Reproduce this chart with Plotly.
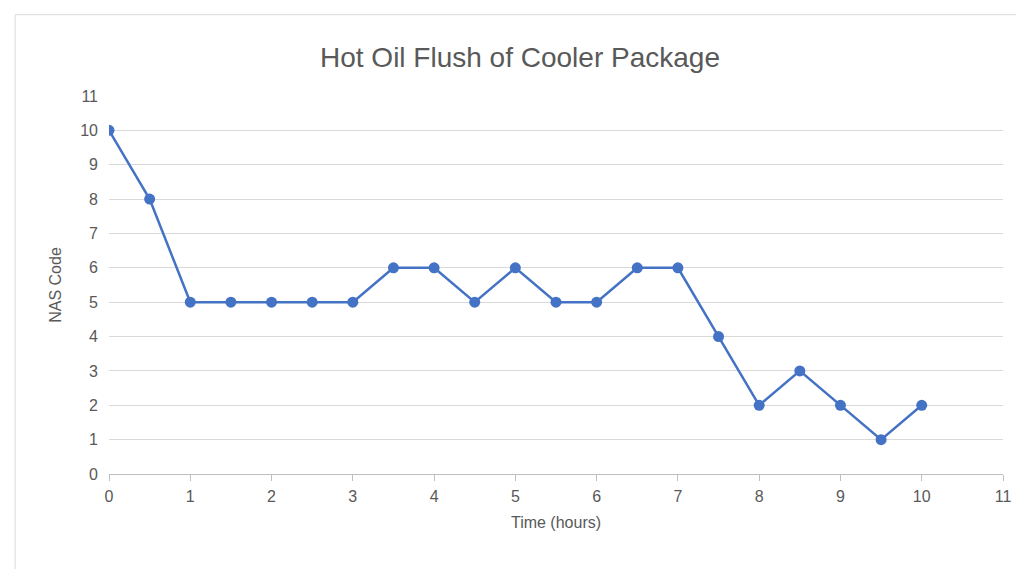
import plotly.graph_objects as go

hours = [0, 0.5, 1, 1.5, 2, 2.5, 3, 3.5, 4, 4.5, 5, 5.5, 6, 6.5, 7, 7.5, 8, 8.5, 9, 9.5, 10]
nas_code = [10, 8, 5, 5, 5, 5, 5, 6, 6, 5, 6, 5, 5, 6, 6, 4, 2, 3, 2, 1, 2]

fig = go.Figure()
fig.add_trace(go.Scatter(
    x=hours, y=nas_code, mode="lines+markers",
    line=dict(color="#4472C4", width=2.5),
    marker=dict(color="#4472C4", size=11),
))

axis_font = dict(family="Liberation Sans, Arial", size=16, color="#595959")
fig.update_layout(
    width=1024, height=569,
    paper_bgcolor="white", plot_bgcolor="white",
    showlegend=False,
    margin=dict(l=101, r=29, t=88, b=103),
    title=dict(text="Hot Oil Flush of Cooler Package", x=0.5, y=0.93, xanchor="center",
               font=dict(family="Liberation Sans, Arial", size=28, color="#595959")),
    xaxis=dict(range=[0, 11], tick0=0, dtick=1, showgrid=False, zeroline=False,
               showline=True, linecolor="#BFBFBF", ticks="outside", ticklen=6,
               tickcolor="#BFBFBF", tickfont=axis_font, ticklabelstandoff=2,
               title=dict(text="Time (hours)", font=axis_font, standoff=12)),
    yaxis=dict(range=[0, 11], tick0=0, dtick=1, showgrid=True, gridcolor="#D9D9D9",
               zeroline=False, showline=False, tickfont=axis_font, ticks="",
               ticklabelstandoff=10,
               title=dict(text="NAS Code", font=axis_font, standoff=14)),
    shapes=[dict(type="rect", xref="paper", yref="paper", x0=-0.105, x1=1.028,
                 y0=-0.258, y1=1.215, line=dict(color="#D9D9D9", width=1))],
)

fig.write_html("out.html")
